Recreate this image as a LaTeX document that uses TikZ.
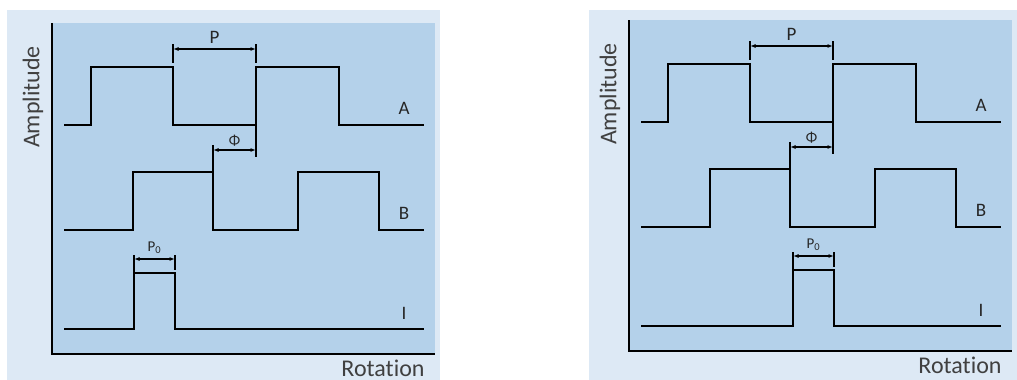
\documentclass[tikz,border=0pt]{standalone}
\usepackage{fontspec}
\setmainfont{Carlito}[Ligatures=NoCommon]
\usetikzlibrary{positioning, arrows.meta, calc}
\definecolor{paneout}{RGB}{221,233,245}
\definecolor{panein}{RGB}{180,209,234}

\begin{document}
\begin{tikzpicture}[x=1pt, y=-1pt,
    wave/.style={line width=1.6pt},
    tickline/.style={line width=1.1pt},
    dim/.style={line width=1.1pt, {Latex[length=5.5pt,width=4pt]}-{Latex[length=5.5pt,width=4pt]}},
    sig/.style={font=\fontsize{19}{19}\selectfont, text=black!85},
    small/.style={font=\fontsize{15}{15}\selectfont, text=black!85},
    axislabel/.style={font=\fontsize{24}{24}\selectfont, text=black!75}]
    \useasboundingbox[fill=white] (0,0) rectangle (1017,380);
    \fill[paneout] (7,10) rectangle (440,380);
    \fill[paneout] (589,10) rectangle (1017,380);

    \foreach \dx/\dy/\ix in {0/0/134, 577/-3/216} {
    \begin{scope}[shift={(\dx,\dy)}]
        \fill[panein] (52,23) rectangle (435,354);
        \draw[wave] (52,23) -- (52,354) -- (435,354);

        % channels A, B and index I
        \draw[wave] (64,125) -- (91,125) -- (91,67) -- (173,67) -- (173,125) -- (256,125)
            -- (256,67) -- (339,67) -- (339,125) -- (424,125);
        \draw[wave] (64,230) -- (133,230) -- (133,172) -- (213,172) -- (213,230) -- (298,230)
            -- (298,172) -- (379,172) -- (379,230) -- (424,230);
        \draw[wave] (64,329) -- (\ix,329) -- (\ix,273) -- (\ix+41,273) -- (\ix+41,329) -- (424,329);
        \draw[tickline] (256,125) -- (256,157) (213,172) -- (213,145);
        \draw[tickline] (173,44) -- (173,63) (256,44) -- (256,63)
            (\ix,255) -- (\ix,273) (\ix+41,255) -- (\ix+41,270);

        \coordinate (pl) at (173,49);
        \coordinate (pr) at (256,49);
        \coordinate (phl) at (213,150);
        \coordinate (phr) at (256,150);
        \coordinate (zl) at (\ix,259);
        \coordinate (zr) at (\ix+41,259);
        \draw[dim] (pl) -- (pr);
        \draw[dim] (phl) -- (phr);
        \draw[dim] (zl) -- (zr);

        \node[sig] (p) at ($(pl)!0.5!(pr) + (0,-12)$) {P};
        \node[small] (phi) at ($(phl)!0.5!(phr) + (0,-9)$) {Φ};
        \node[small] (p0) at ($(zl)!0.5!(zr) + (0,-11)$) {P\textsubscript{0}};
        \node[sig] (a) at (404,108) {A};
        \node[sig] (b) at (404,213) {B};
        \node[sig] (i) at (404,313) {I};
        \node[axislabel, rotate=90] (amp) at (33,97) {Amplitude};
        \node[axislabel, anchor=base] (rot) at (383,376) {Rotation};
    \end{scope}
    }
\end{tikzpicture}
\end{document}
